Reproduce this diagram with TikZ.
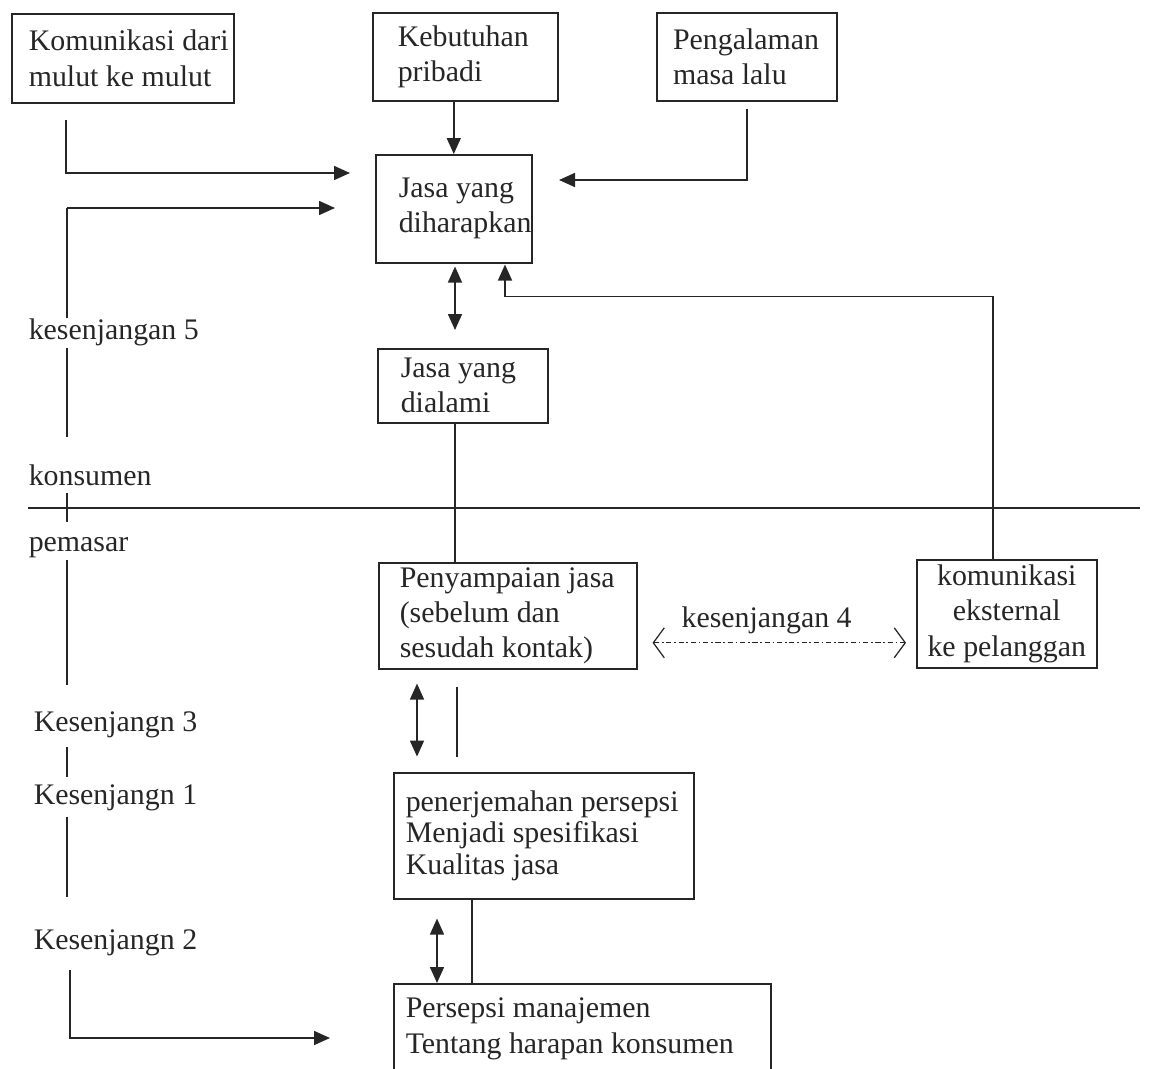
\documentclass[tikz,border=0pt]{standalone}
\usepackage{fontspec}
\setmainfont{Liberation Serif}
\usetikzlibrary{arrows.meta}
\usetikzlibrary{positioning}
\usetikzlibrary{calc}

\begin{document}
\begin{tikzpicture}[x=0.02cm,y=-0.02cm,>={Triangle[length=0.32cm,width=0.28cm]},
    line width=0.9pt,color=black!85,
    every node/.style={font=\fontsize{17}{20}\selectfont},
    box/.style={draw,anchor=north west,align=left,inner ysep=0pt,
      execute at begin node={\spaceskip=0pt\xspaceskip=0pt\relax}},
    gap label/.style={anchor=west,inner sep=0pt},
    gap arrow/.style={{Straight Barb[length=0.22cm,width=0.6cm,line width=0.7pt]}-{Straight Barb[length=0.22cm,width=0.6cm,line width=0.7pt]},
      line width=0.5pt,dash pattern=on 3pt off 1.5pt on 1pt off 1.5pt}]

  \useasboundingbox (0,0) rectangle (1149,1068);

  % boxes
  \node[box,text width=3.76cm,inner xsep=0.34cm,minimum height=1.78cm] (kom) at (11,13) {\mbox{Komunikasi dari}\\\mbox{mulut ke mulut}};
  \node[box,text width=2.7cm,inner xsep=0.5cm,minimum height=1.76cm] (keb) at (372,12) {Kebutuhan\\pribadi};
  \node[box,text width=2.95cm,inner xsep=0.325cm,minimum height=1.76cm] (peng) at (656,12) {Pengalaman\\masa lalu};
  \node[box,text width=2.2cm,inner xsep=0.46cm,minimum height=2.16cm] (dih) at (375,154) {\mbox{Jasa yang}\\\mbox{diharapkan}};
  \node[box,text width=2.48cm,inner xsep=0.46cm,minimum height=1.48cm] (dia) at (377,348) {Jasa yang\\dialami};
  \node[box,text width=4.32cm,inner xsep=0.42cm,minimum height=2.12cm] (peny) at (378,562) {Penyampaian jasa\\(sebelum dan\\sesudah kontak)};
  \node[box,align=center,text width=3.22cm,inner xsep=0.19cm,minimum height=2.16cm] (kext) at (916,559) {komunikasi\\eksternal\\ke pelanggan};
  \node[box,text width=5.52cm,inner xsep=0.24cm,minimum height=2.52cm,font=\fontsize{17}{18}\selectfont] (pen) at (393,772) {penerjemahan persepsi\\Menjadi spesifikasi\\Kualitas jasa};
  \node[box,text width=7.06cm,inner xsep=0.24cm,minimum height=1.8cm] (pers) at (393,983) {Persepsi manajemen\\Tentang harapan konsumen};

  % labels on the left
  \node[gap label] (k5) at (28,332) {kesenjangan 5};
  \node[gap label] (kons) at (28,475) {konsumen};
  \node[gap label] (pem) at (28,548) {pemasar};
  \node[gap label] (k3) at (33,725) {Kesenjangn 3};
  \node[gap label] (k1) at (33,798) {Kesenjangn 1};
  \node[gap label] (k2) at (33,943) {Kesenjangn 2};

  % inputs to jasa yang diharapkan
  \coordinate (kom out) at (66,120);
  \coordinate (kom in) at (350,173);
  \coordinate (gap5 top) at (67,208);
  \coordinate (gap5 in) at (335,208);
  \coordinate (peng in) at (559,180);
  \draw[->] (kom out) |- (kom in);
  \draw[->] (gap5 top) -- (gap5 in);
  \draw[->] (dih.north |- keb.south) -- (dih.north);
  \draw[->] ([yshift=-0.14cm]peng.south) |- (peng in);

  % left line
  \foreach \ya/\yb in {208/318,348/437,493/522,560/685,747/777,817/897}
    \draw (67,\ya) -- (67,\yb);
  \coordinate (k2 out) at (70,970);
  \coordinate (pers in) at (330,1038);
  \draw[->] (k2 out) |- (pers in);

  % konsumen / pemasar
  \coordinate (sep w) at (28,508);
  \coordinate (sep e) at (1140,508);
  \draw (sep w) -- (sep e);

  % middle column
  \draw[<->] ($(dih.south west)+(80,3)$) -- ($(dia.north west)+(78,-18)$);
  \draw ($(dia.south west)+(78,0)$) -- ($(peny.north west)+(77,0)$);
  \draw[<->] ($(peny.south west)+(39,14)$) -- ($(peny.south west)+(39,87)$);
  \draw ($(peny.south west)+(79,17)$) -- ($(peny.south west)+(79,87)$);
  \draw[<->] ($(pen.south west)+(44,19)$) -- ($(pers.north west)+(44,0)$);
  \draw ($(pen.south west)+(79,0)$) -- ($(pers.north west)+(79,0)$);

  % feedback from komunikasi eksternal
  \draw[->] ($(kext.north west)+(77,0)$) |- ($(dih.south west)+(130,33)$) -- ($(dih.south west)+(130,1)$);
  \draw[gap arrow] ($(peny.east)+(15,27)$) -- ($(kext.west |- peny.east)+(-10,27)$)
    node[pos=0.45,above=0.05cm] (k4) {kesenjangan 4};
\end{tikzpicture}
\end{document}
